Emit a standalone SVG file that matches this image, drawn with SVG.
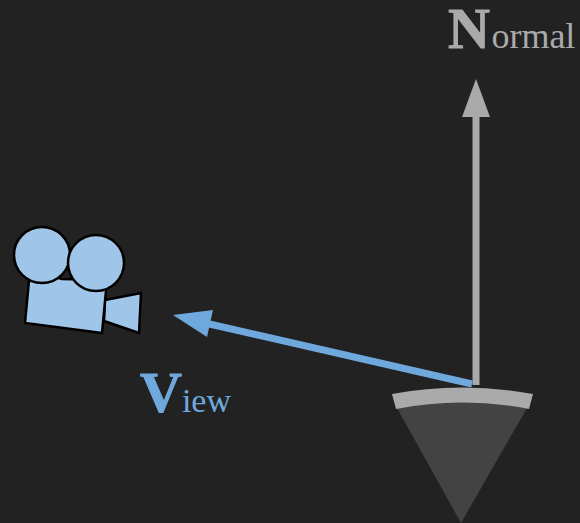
<svg xmlns="http://www.w3.org/2000/svg" width="580" height="523" viewBox="0 0 580 523">
<style>
.lbl{font-family:"Liberation Serif","Times New Roman",serif}
.big{font-weight:bold;font-size:58px;stroke-width:1}
.sm{font-size:36px;stroke:none}
.cam{fill:#9fc5e8;stroke:#000;stroke-width:2.5;stroke-linejoin:miter}
</style>
<rect width="580" height="523" fill="#222222"/>
<g id="surface">
<path d="M397 408Q461 396 527 408L461 523Z" fill="#434343"/>
<path d="M392 394Q461 381 533 394L529 409Q461 396 396 409Z" fill="#aaaaaa"/>
</g>
<g id="connectors">
<path d="M476 385V115" stroke="#aaaaaa" stroke-width="7" fill="none"/>
<path d="M476 79L490 117H462Z" fill="#aaaaaa"/>
<path d="M472 384L205 323" stroke="#6fa8dc" stroke-width="7" fill="none"/>
<path d="M173 315L213 310L207 337Z" fill="#6fa8dc"/>
</g>
<g id="camera">
<path class="cam" d="M105 300L141 293L139 333L104 321Z"/>
<path class="cam" d="M30 270L62 279L107 280L102 333L25 323Z"/>
<circle class="cam" cx="42" cy="255" r="28"/>
<circle class="cam" cx="96" cy="263" r="28"/>
</g>
<g id="normal-label"><text class="lbl" x="448" y="47.500" fill="#aaaaaa" stroke="#aaaaaa"><tspan class="big">N</tspan><tspan class="sm" dx="1.500">ormal</tspan></text></g>
<g id="view-label"><text class="lbl" x="140" y="412" fill="#6fa8dc" stroke="#6fa8dc"><tspan class="big">V</tspan><tspan class="sm" style="font-size:34px">iew</tspan></text></g>
</svg>
